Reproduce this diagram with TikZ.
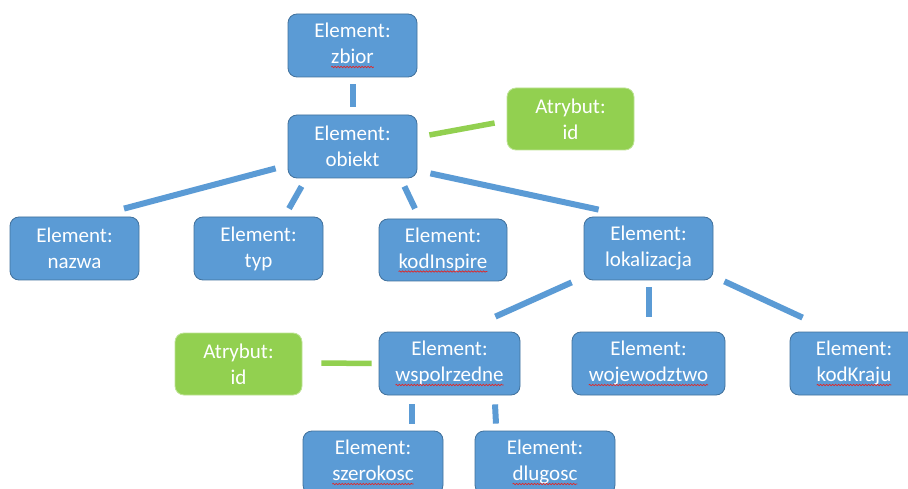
\documentclass[tikz,border=0pt]{standalone}
\usepackage{fontspec}
\setmainfont{Carlito}
\usetikzlibrary{decorations.pathmorphing}
\definecolor{elblue}{HTML}{5B9BD5}
\definecolor{elline}{HTML}{41719C}
\definecolor{atgreen}{HTML}{92D050}
\definecolor{spellred}{HTML}{E02828}
% word with a red spell-check wave under it
\newcommand{\wavy}[1]{\tikz[baseline=(w.base),x=1cm,y=1cm]{\node[rectangle,draw=none,fill=none,minimum width=0pt,minimum height=0pt,inner sep=0pt,outer sep=0pt] (w) {#1};
  \draw[spellred,line width=.7pt,sharp corners,decorate,decoration={snake,amplitude=.7pt,segment length=3pt}] ([yshift=-3.5pt]w.base west) -- ([yshift=-3.5pt]w.base east);}}

\begin{document}
\begin{tikzpicture}
[x=1pt,y=-1pt]
\tikzset{elem/.style={rectangle,rounded corners=9pt,fill=elblue,draw=elline,line width=.8pt,text=white,align=center,minimum width=129pt,minimum height=63pt,inner sep=2pt,font=\fontsize{21}{26}\selectfont}}
\tikzset{attr/.style={elem,fill=atgreen,draw=atgreen!60!white,minimum width=127pt,minimum height=62pt}}
\tikzset{link/.style={elblue,line width=6pt}}
\tikzset{alink/.style={atgreen,line width=5.5pt}}
\useasboundingbox (0,0) rectangle (908,489);
\clip (0,0) rectangle (908,489);
\fill[white] (0,0) rectangle (908,489);

\node [elem] (zbior) at (352.5,45.5) {Element:\\\wavy{zbior}};
\node [elem] (obiekt) at (352.5,146.5) {Element:\\obiekt};
\node [attr] (id1) at (570.5,119) {Atrybut:\\id};
\node [elem] (nazwa) at (74.5,248.5) {Element:\\nazwa};
\node [elem] (typ) at (258.5,248.5) {Element:\\typ};
\node [elem,minimum width=128pt,minimum height=62pt] (kodInspire) at (443,250) {Element:\\\wavy{kodInspire}};
\node [elem] (lokalizacja) at (648.5,248.5) {Element:\\lokalizacja};
\node [attr] (id2) at (238.5,364) {Atrybut:\\id};
\node [elem,minimum width=141pt] (wspolrzedne) at (449.5,363.5) {Element:\\\wavy{wspolrzedne}};
\node [elem,minimum width=153pt] (wojewodztwo) at (648.5,363.5) {Element:\\\wavy{wojewodztwo}};
\node [elem,minimum width=128pt] (kodKraju) at (854,363.5) {Element:\\\wavy{kodKraju}};
\node [elem,minimum width=140pt] (szerokosc) at (373,462.5) {Element:\\\wavy{szerokosc}};
\node [elem,minimum width=140pt] (dlugosc) at (545,462.5) {Element:\\\wavy{dlugosc}};

\draw [link] ([shift={(0,7)}]zbior.south) -- ([shift={(0,-8)}]obiekt.north);
\draw [alink] ([shift={(12,-11.5)}]obiekt.east) -- ([shift={(-12,4)}]id1.west);
\draw [link] ([shift={(-12,-10)}]obiekt.south west) -- ([shift={(49.5,-8)}]nazwa.north);
\draw [link] ([shift={(14,8)}]obiekt.south west) -- ([shift={(30.5,-8)}]typ.north);
\draw [link] ([shift={(-13,8)}]obiekt.south east) -- ([shift={(-28,-10)}]kodInspire.north);
\draw [link] ([shift={(13,-5)}]obiekt.south east) -- ([shift={(15,-7)}]lokalizacja.north west);
\draw [link] ([shift={(-12,2)}]lokalizacja.south west) -- ([shift={(-25,-15)}]wspolrzedne.north east);
\draw [link] ([shift={(0,7)}]lokalizacja.south) -- ([shift={(0,-15)}]wojewodztwo.north);
\draw [link] ([shift={(11,1)}]lokalizacja.south east) -- ([shift={(13,-14)}]kodKraju.north west);
\draw [alink] ([shift={(19,-1)}]id2.east) -- ([shift={(-7,0)}]wspolrzedne.west);
\draw [link] ([shift={(-37.5,9)}]wspolrzedne.south) -- ([shift={(39,-7)}]szerokosc.north);
\draw [link] ([shift={(45.5,9)}]wspolrzedne.south) -- ([shift={(-49,-7)}]dlugosc.north);

\end{tikzpicture}
\end{document}
